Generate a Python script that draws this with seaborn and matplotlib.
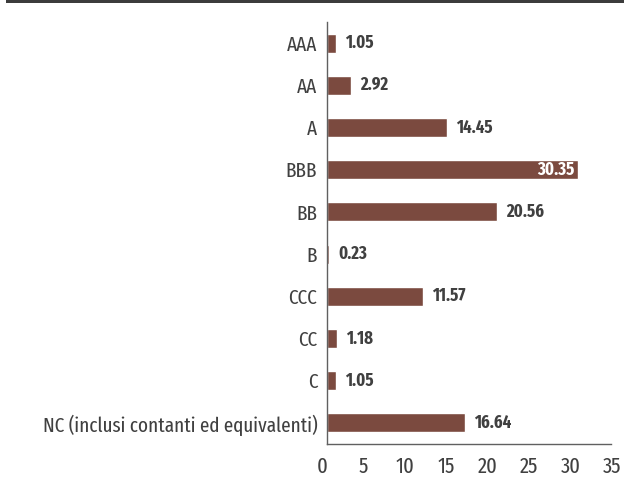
import matplotlib
matplotlib.use("Agg")
import matplotlib.pyplot as plt
import matplotlib.transforms as mtransforms
import seaborn as sns
import pandas as pd
from matplotlib import font_manager as fm

categories = ["AAA", "AA", "A", "BBB", "BB", "B", "CCC", "CC", "C",
              "NC (inclusi contanti ed equivalenti)"]
values = [1.05, 2.92, 14.45, 30.35, 20.56, 0.23, 11.57, 1.18, 1.05, 16.64]
xticks = [0, 5, 10, 15, 20, 25, 30, 35]

sns.set_style("white")
names = {f.name for f in fm.fontManager.ttflist}
fam = "DejaVu Sans"
for cand in ["Fira Sans Extra Condensed", "PT Sans Narrow", "Fira Sans Condensed",
             "Roboto Condensed", "Open Sans Condensed", "Liberation Sans Narrow"]:
    if cand in names:
        fam = cand
        break
plt.rcParams["font.family"] = [fam, "DejaVu Sans"]

txt = "#404040"
bar_color = "#7B4A3F"

df = pd.DataFrame({"cat": categories, "val": values})

fig = plt.figure(figsize=(6.24, 4.84), dpi=100)
ax = fig.add_axes([327/624, 40/484, 290/624, 422/484])
sns.barplot(data=df, x="val", y="cat", orient="h", color=bar_color,
            saturation=1, width=0.45, ax=ax)

ax.set_xlim(0, 35)
ax.set_ylim(len(categories) - 0.5, -0.5)
ax.set_xticks(xticks)
ax.set_xticklabels([str(t) for t in xticks], fontsize=16, color=txt)
ax.set_yticklabels(categories, fontsize=15, color=txt)
ax.tick_params(axis="y", length=0, pad=7)
ax.tick_params(axis="x", length=0, pad=9)
shift = mtransforms.ScaledTranslation(-5/100, 0, fig.dpi_scale_trans)
for lab in ax.get_xticklabels():
    lab.set_transform(lab.get_transform() + shift)
ax.set_xlabel("")
ax.set_ylabel("")
for s in ["top", "right"]:
    ax.spines[s].set_visible(False)
for s in ["left", "bottom"]:
    ax.spines[s].set_color("#606060")
    ax.spines[s].set_linewidth(1)
ax.spines["bottom"].set_bounds(0, 34.3)

for i, v in enumerate(values):
    if v > 28:
        ax.text(v - 0.5, i, f"{v:.2f}", ha="right", va="center", color="white",
                fontsize=13, fontweight="bold")
    else:
        ax.text(v + 1.1, i, f"{v:.2f}", ha="left", va="center", color=txt,
                fontsize=13, fontweight="bold")

# top dark rule
fig.add_artist(plt.Rectangle((6/624, 1 - 3/484), 1, 3/484, transform=fig.transFigure,
                             color="#3c3c3c", lw=0))

fig.savefig("out.png", dpi=100)
